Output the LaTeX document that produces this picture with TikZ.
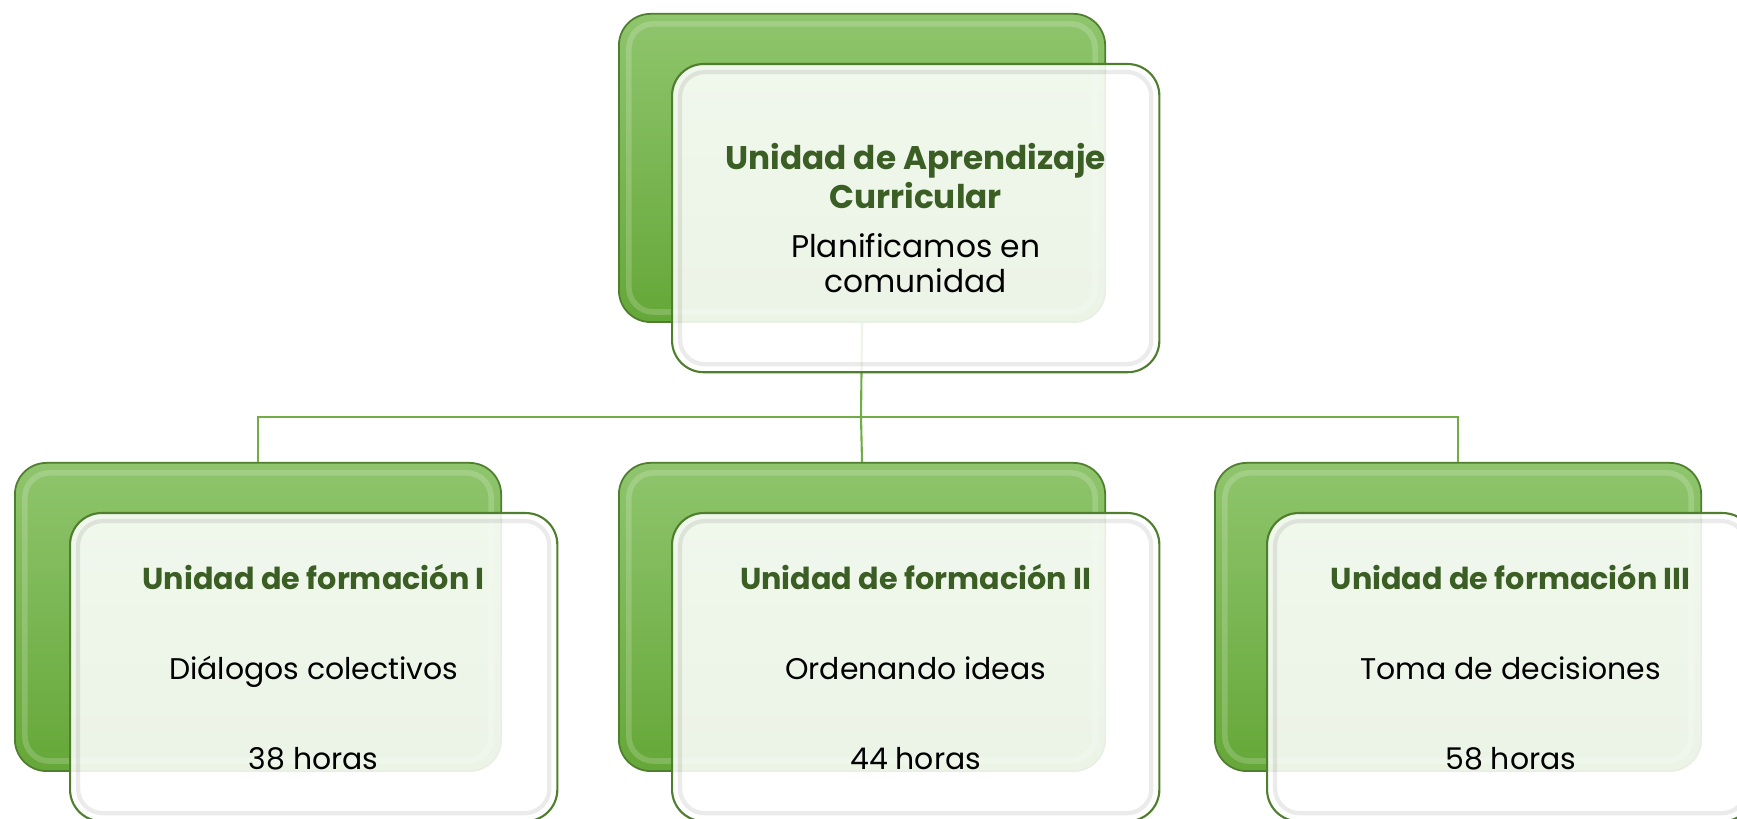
\documentclass[tikz,border=0pt]{standalone}
\usepackage{fontspec}
\setmainfont{Poppins}
\usepackage{xcolor}
\usepackage{tikz}
\usetikzlibrary{positioning,calc}

\definecolor{bevellight}{HTML}{8FC56D}
\definecolor{beveldark}{HTML}{65A738}
\definecolor{edgegreen}{HTML}{4F7F2E}
\definecolor{titlegreen}{HTML}{3B5E24}
\definecolor{linkgreen}{HTML}{70AD47}

\newcommand{\unitname}[2][8.6]{{\fontsize{#1}{9.8}\selectfont\textbf{\textcolor{titlegreen}{#2}}}}

\begin{document}
\begin{tikzpicture}[x=0.01cm, y=0.01cm,
  backbox/.style={draw=edgegreen, line width=0.5pt, rounded corners=9pt,
    top color=bevellight, bottom color=beveldark, anchor=north west,
    minimum width=4.86cm, minimum height=3.08cm, inner sep=0pt,
    path picture={\draw[white, opacity=0.18, line width=1.6pt, rounded corners=7pt]
      ([shift={(0.1cm,-0.1cm)}]path picture bounding box.north west) rectangle
      ([shift={(-0.1cm,0.1cm)}]path picture bounding box.south east);}},
  frontbox/.style={draw=edgegreen, line width=0.6pt, rounded corners=9pt,
    fill=white, fill opacity=0.88, text opacity=1, anchor=north west,
    minimum width=4.87cm, minimum height=3.08cm, inner sep=0pt, align=center,
    font=\fontsize{8.5}{9.8}\selectfont,
    path picture={\draw[black, draw opacity=0.08, line width=1.2pt, rounded corners=7pt]
      ([shift={(0.08cm,-0.08cm)}]path picture bounding box.north west) rectangle
      ([shift={(-0.08cm,0.08cm)}]path picture bounding box.south east);}},
  link/.style={linkgreen, line width=0.6pt}]

  \clip (0,0) rectangle (1737,819);

  % connectors
  \coordinate (bus) at (861,402);

  % back plates
  \node[backbox] (gtop) at (618,806) {};
  \node[backbox] (g1) at (14,357) {};
  \node[backbox] (g2) at (618,357) {};
  \node[backbox] (g3) at (1214,357) {};

  \draw[link] (gtop.south) -- (bus) -- (g2.north);
  \draw[link] (bus) -| (g1.north);
  \draw[link] (bus) -| (g3.north);

  % Top unit
  \node[frontbox] (top) at (671,756) {\unitname[9.3]{Unidad de Aprendizaje}\\
    \unitname[9.3]{Curricular}\\[4.3pt]
    {\fontsize{8.9}{9.8}\selectfont Planificamos en}\\
    {\fontsize{8.9}{9.8}\selectfont comunidad}};

  % Units of training
  \node[frontbox] (u1) at (69,307) {\unitname{Unidad de formación I}\\[15.8pt]
    Diálogos colectivos\\[15.8pt] 38 horas};
  \node[frontbox] (u2) at (671,307) {\unitname{Unidad de formación II}\\[15.8pt]
    Ordenando ideas\\[15.8pt] 44 horas};
  \node[frontbox] (u3) at (1266,307) {\unitname{Unidad de formación III}\\[15.8pt]
    Toma de decisiones\\[15.8pt] 58 horas};
\end{tikzpicture}
\end{document}
